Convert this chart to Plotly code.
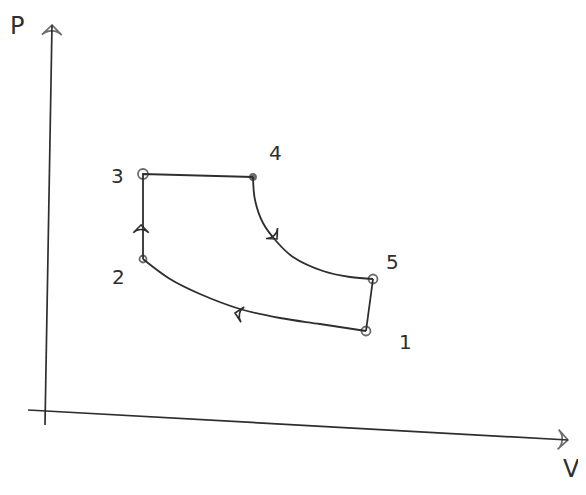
import plotly.graph_objects as go

# state points of the cycle (V, P) in sketch units
state_names = ["1", "2", "3", "4", "5"]
state_v = [321, 98, 98, 208, 328]
state_p = [79, 151, 236, 233, 131]

# compression curve 1 -> 2
comp_v = [321, 275, 235, 195, 155, 125, 98]
comp_p = [79, 86, 92, 101, 116, 131, 151]

# expansion curve 4 -> 5
exp_v = [208, 210, 218, 232, 248, 278, 305, 328]
exp_p = [233, 210, 187, 168, 153, 139, 133, 131]

# axes as drawn by hand
p_axis_v = [0, 7]
p_axis_p = [-15, 385]
v_axis_v = [-17, 523]
v_axis_p = [0, -30]

# little direction arrows on the paths (V, P, angle)
dir_v = [96, 190, 232]
dir_p = [185, 97, 171]
dir_angle = [0, -78, 138]

ink = "#2e2e2e"

fig = go.Figure()

# axes with arrow tips
fig.add_trace(go.Scatter(x=p_axis_v, y=p_axis_p, mode="lines+markers",
                         line=dict(color=ink, width=1.7),
                         marker=dict(symbol="arrow-wide-open", size=[0, 14], angleref="previous",
                                     line=dict(color=ink, width=1.7), color=ink)))
fig.add_trace(go.Scatter(x=v_axis_v, y=v_axis_p, mode="lines+markers",
                         line=dict(color=ink, width=1.7),
                         marker=dict(symbol="arrow-wide-open", size=[0, 14], angleref="previous",
                                     line=dict(color=ink, width=1.7), color=ink)))

# cycle: 1->2 curve, 2->3, 3->4, 4->5 curve, 5->1
fig.add_trace(go.Scatter(x=comp_v, y=comp_p, mode="lines", line=dict(color=ink, width=1.8, shape="spline")))
fig.add_trace(go.Scatter(x=[state_v[1], state_v[2], state_v[3]], y=[state_p[1], state_p[2], state_p[3]],
                         mode="lines", line=dict(color=ink, width=1.8)))
fig.add_trace(go.Scatter(x=exp_v, y=exp_p, mode="lines", line=dict(color=ink, width=1.8, shape="spline")))
fig.add_trace(go.Scatter(x=[state_v[4], state_v[0]], y=[state_p[4], state_p[0]],
                         mode="lines", line=dict(color=ink, width=1.8)))

# state point circles
fig.add_trace(go.Scatter(x=state_v, y=state_p, mode="markers",
                         marker=dict(symbol=["circle-open", "circle-open", "circle-open", "circle", "circle-open"],
                                     size=[9, 7, 10, 6, 9], color=ink, line=dict(color=ink, width=1.8))))

# direction arrows
fig.add_trace(go.Scatter(x=dir_v, y=dir_p, mode="markers",
                         marker=dict(symbol="arrow-wide-open", size=11, angle=dir_angle,
                                     color=ink, line=dict(color=ink, width=1.6))))

# labels
label_v = [360, 73, 72, 230, 347]
label_p = [68, 133, 234, 257, 148]
for name, lv, lp in zip(state_names, label_v, label_p):
    fig.add_annotation(x=lv, y=lp, text=name, showarrow=False,
                       font=dict(family="DejaVu Sans", size=20, color=ink))
fig.add_annotation(x=-28, y=384, text="P", showarrow=False,
                   font=dict(family="DejaVu Sans", size=24, color=ink))
fig.add_annotation(x=526, y=-59, text="V", showarrow=False,
                   font=dict(family="DejaVu Sans", size=24, color=ink))

# the page puts the plot 8px in from the corner, so the figure is 8px smaller
fig.update_layout(width=578, height=487, margin=dict(l=0, r=0, t=0, b=0),
                  paper_bgcolor="#ffffff", plot_bgcolor="#ffffff", showlegend=False)
fig.update_xaxes(range=[-37, 541], visible=False)
fig.update_yaxes(range=[-85, 402], visible=False)

fig.write_html("out.html")
